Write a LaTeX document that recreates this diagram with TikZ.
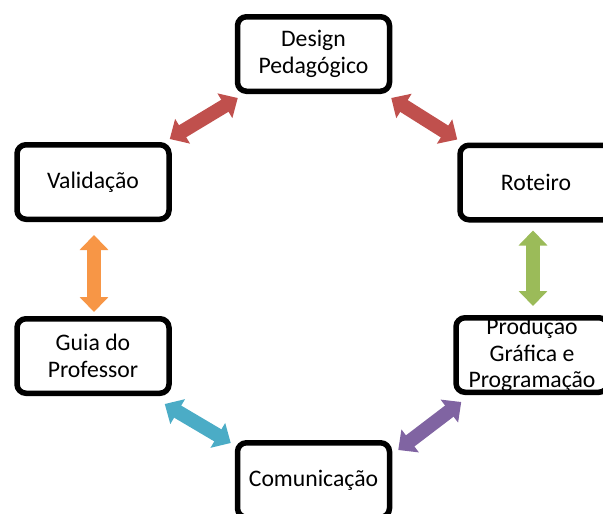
\documentclass[tikz,border=0pt]{standalone}
\usepackage{fontspec}
\setmainfont{Carlito}
\usetikzlibrary{arrows.meta}
\usetikzlibrary{positioning}

\definecolor{cred}{HTML}{C0504D}
\definecolor{cgreen}{HTML}{9BBB59}
\definecolor{corange}{HTML}{F79646}
\definecolor{ccyan}{HTML}{4BACC6}
\definecolor{cpurple}{HTML}{8064A2}

\begin{document}
\begin{tikzpicture}[x=1pt, y=-1pt,
                font=\fontsize{23.7}{26.5}\selectfont,
                block/.style={rectangle, rounded corners=9pt, draw, line width=5.5pt, fill=white,
                              minimum width=152pt, minimum height=74.5pt, inner sep=0pt, align=center},
                biarrow/.style={draw, line width=14pt, line cap=butt,
                                {Triangle[width=28pt,length=15pt]}-{Triangle[width=28pt,length=15pt]}},
            ]
            \useasboundingbox (0,0) rectangle (603,514);
            \node[block] (design) at (313.5,54) {Design\\Pedagógico};
            \node[block] (roteiro) at (536,182.5) {Roteiro};
            \node[block] (producao) at (532,355) {Produção\\Gráfica e\\Programação};
            \node[block] (comunic) at (313.5,480) {Comunicação};
            \node[block] (guia) at (93,356) {Guia do\\Professor};
            \node[block] (valid) at (93,182) {Validação};
            \path[biarrow, cred] ([xshift=-2pt, yshift=3pt] valid.north east) -- ([xshift=3pt, yshift=-4pt] design.south west);
            \path[biarrow, cred] ([xshift=-1pt, yshift=-4pt] design.south east) -- ([yshift=3pt] roteiro.north west);
            \path[biarrow, cgreen] ([xshift=-3pt, yshift=-8pt] roteiro.south) -- ([xshift=1pt, yshift=9pt] producao.north);
            \path[biarrow, cpurple] ([xshift=8pt, yshift=-7pt] producao.south west) -- ([xshift=6pt, yshift=-10pt] comunic.north east);
            \path[biarrow, ccyan] ([xshift=-4pt, yshift=-3pt] comunic.north west) -- ([xshift=-7pt, yshift=-8pt] guia.south east);
            \path[biarrow, corange] ([xshift=1pt, yshift=4pt] guia.north) -- ([xshift=1pt, yshift=-13pt] valid.south);
\end{tikzpicture}
\end{document}
